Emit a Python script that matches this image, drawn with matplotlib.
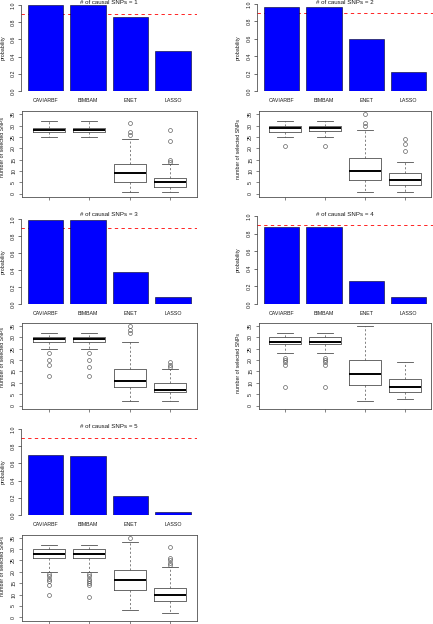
import matplotlib
matplotlib.use("Agg")
import matplotlib.pyplot as plt

plt.rcParams['font.family'] = ['Liberation Sans', 'DejaVu Sans']

methods = ["CAVIARBF", "BIMBAM", "ENET", "LASSO"]
n_causal = [1, 2, 3, 4, 5]

# proportion of replicates where the causal SNPs were captured
prob_k1 = [1.0, 1.0, 0.865, 0.47]
prob_k2 = [0.97, 0.97, 0.595, 0.215]
prob_k3 = [0.985, 0.985, 0.375, 0.085]
prob_k4 = [0.87, 0.87, 0.26, 0.085]
prob_k5 = [0.70, 0.69, 0.22, 0.04]

# boxplot stats: (whisker low, q1, median, q3, whisker high)
box_k1 = [(25, 27, 28, 29, 32), (25, 27, 28, 29, 32), (1, 5, 9, 13, 24), (1, 3, 5, 7, 13)]
out_k1 = [[], [], [26, 27, 31], [14, 15, 23, 28]]
box_k2 = [(25, 27, 29, 30, 32), (25, 27.5, 29, 30, 32), (1, 6, 10, 15.75, 28), (1, 4, 6, 9, 14)]
out_k2 = [[21], [21], [30, 31, 35], [19, 22, 24]]
box_k3 = [(25, 28, 29, 30, 32), (25, 28, 29, 30, 32), (2, 8, 11, 16, 28), (2, 6, 7, 10, 16)]
out_k3 = [[13, 18, 20, 23], [13, 17, 20, 23], [32, 33, 35], [17, 18, 19]]
box_k4 = [(23, 27, 28, 30, 32), (23, 27, 28, 30, 32), (2, 9, 14, 20, 35), (3, 6, 8, 11.5, 19)]
out_k4 = [[8, 18, 19, 20, 21], [8, 18, 19, 20, 21], [], []]
box_k5 = [(20, 26, 28, 30, 32), (20, 26, 28, 30, 32), (3, 12, 16.5, 21, 33), (2, 7, 10, 13, 22)]
out_k5 = [[10, 14, 16, 17, 18, 19], [9, 14, 15, 16, 17, 18, 19], [35], [23, 24, 25, 26, 31]]

probs = [prob_k1, prob_k2, prob_k3, prob_k4, prob_k5]
boxes = [box_k1, box_k2, box_k3, box_k4, box_k5]
outs = [out_k1, out_k2, out_k3, out_k4, out_k5]

W, H = 433, 624
fig = plt.figure(figsize=(W / 100, H / 100), dpi=100)


def px_axes(x0, x1, y0, y1):
    return fig.add_axes([x0 / W, 1 - y1 / H, (x1 - x0) / W, (y1 - y0) / H])


# pixel layout: (column, row) for each panel
cols = {
    0: dict(bar_x=(21, 197), box_x=(22, 197), lab_x=3,
            bar_y=[(5, 91), (219, 304), (429, 515)], title_y=[3, 214, 426], box_lab_y=[147, 357, 566]),
    1: dict(bar_x=(257, 432.5), box_x=(259, 431), lab_x=238,
            bar_y=[(4, 91), (216, 304)], title_y=[3, 214], box_lab_y=[149, 363]),
}
box_y = [(111, 197), (322.5, 409), (534.5, 620.5)]
where = [(0, 0), (1, 0), (0, 1), (1, 1), (0, 2)]

centers = [0.7, 1.9, 3.1, 4.3]
fs = 3.8
txt = '#1a1a1a'
edge = '#505050'

for i, k in enumerate(n_causal):
    c, r = where[i]
    L = cols[c]

    # --- bar panel
    y0, y1 = L['bar_y'][r]
    ax = px_axes(L['bar_x'][0], L['bar_x'][1], y0, y1)
    ax.axhline(0.9, color='red', ls=(0, (4, 4)), lw=0.6, zorder=1)
    ax.bar(centers, probs[i], width=1.0, color='blue', edgecolor='#000022', lw=0.4, zorder=2)
    ax.set_xlim(0.0, 4.98)
    ax.set_ylim(0, 1)
    for s in ['top', 'right', 'bottom']:
        ax.spines[s].set_visible(False)
    ax.spines['left'].set_linewidth(0.5)
    ax.spines['left'].set_color('#333333')
    ax.set_yticks([0, 0.2, 0.4, 0.6, 0.8, 1.0])
    ax.set_yticklabels(['0.0', '0.2', '0.4', '0.6', '0.8', '1.0'], rotation=90, va='center')
    ax.set_xticks(centers)
    ax.set_xticklabels(methods)
    ax.tick_params(axis='y', length=2.2, width=0.5, pad=1.8, labelsize=fs, colors='#333333', labelcolor=txt)
    ax.tick_params(axis='x', length=0, pad=5, labelsize=fs, labelcolor=txt)
    ax.patch.set_visible(False)
    xm = (L['bar_x'][0] + L['bar_x'][1]) / 2
    fig.text(xm / W, 1 - L['title_y'][r] / H, "# of causal SNPs = %d" % k,
             ha='center', va='center', fontsize=4.4, color=txt)
    fig.text(L['lab_x'] / W, 1 - (y0 + y1) / 2 / H, "probability",
             rotation=90, ha='center', va='center', fontsize=3.8, color=txt)

    # --- box panel
    b0, b1 = box_y[r]
    bx = px_axes(L['box_x'][0], L['box_x'][1], b0, b1)
    stats = []
    for (lo, q1, med, q3, hi), fl in zip(boxes[i], outs[i]):
        stats.append(dict(whislo=lo, q1=q1, med=med, q3=q3, whishi=hi, fliers=fl))
    bx.bxp(stats, positions=[1, 2, 3, 4], widths=0.8, capwidths=0.4, manage_ticks=False,
           boxprops=dict(color=edge, lw=0.6),
           whiskerprops=dict(color=edge, lw=0.5, ls=(0, (3, 3))),
           capprops=dict(color=edge, lw=0.6),
           medianprops=dict(color='black', lw=1.4),
           flierprops=dict(marker='o', mfc='none', mec=edge, ms=2.8, mew=0.45))
    bx.set_xlim(0.34, 4.66)
    bx.set_ylim(-1.4, 36.4)
    bx.set_xticks([1, 2, 3, 4])
    bx.set_xticklabels([])
    bx.set_yticks([0, 5, 10, 15, 20, 25, 30, 35])
    bx.set_yticklabels(['0', '5', '10', '15', '20', '25', '30', '35'], rotation=90, va='center')
    bx.tick_params(axis='both', length=2.4, width=0.5, pad=1.8, labelsize=fs, colors=edge, labelcolor=txt)
    for s in bx.spines.values():
        s.set_linewidth(0.6)
        s.set_color(edge)
    fig.text(L['lab_x'] / W, 1 - L['box_lab_y'][r] / H, "number of selected SNPs",
             rotation=90, ha='center', va='center', fontsize=3.8, color=txt)

fig.savefig("out.png", dpi=100)
